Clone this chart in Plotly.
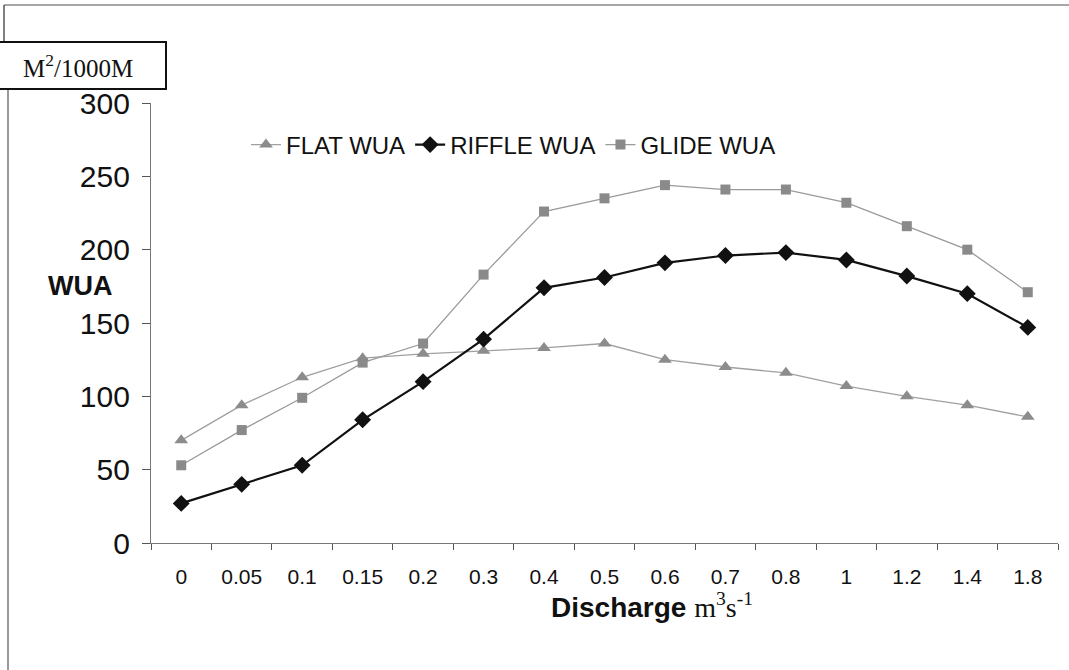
import plotly.graph_objects as go

# Discharge categories (m3/s) and weighted usable area per habitat type
discharge = ["0", "0.05", "0.1", "0.15", "0.2", "0.3", "0.4", "0.5",
             "0.6", "0.7", "0.8", "1", "1.2", "1.4", "1.8"]
flat_wua = [70, 94, 113, 126, 129, 131, 133, 136, 125, 120, 116, 107, 100, 94, 86]
riffle_wua = [27, 40, 53, 84, 110, 139, 174, 181, 191, 196, 198, 193, 182, 170, 147]
glide_wua = [53, 77, 99, 123, 136, 183, 226, 235, 244, 241, 241, 232, 216, 200, 171]
y_ticks = [0, 50, 100, 150, 200, 250, 300]

W, H = 1069, 670
L, R, T, B = 151, 11, 103, 127
PW, PH = W - L - R, H - T - B


def px(x):
    return (x - L) / PW


def py(y):
    return (H - B - y) / PH


SANS = "Liberation Sans, Arial, sans-serif"
SERIF = "Liberation Serif, Times New Roman, serif"

fig = go.Figure()
fig.add_trace(go.Scatter(
    x=discharge, y=flat_wua, name="FLAT WUA", mode="lines+markers",
    line=dict(color="#a0a0a0", width=1.3),
    marker=dict(symbol="triangle-up", size=12, color="#8c8c8c"),
))
fig.add_trace(go.Scatter(
    x=discharge, y=riffle_wua, name="RIFFLE WUA", mode="lines+markers",
    line=dict(color="#111111", width=2.2),
    marker=dict(symbol="diamond", size=13, color="#111111"),
))
fig.add_trace(go.Scatter(
    x=discharge, y=glide_wua, name="GLIDE WUA", mode="lines+markers",
    line=dict(color="#9a9a9a", width=1.3),
    marker=dict(symbol="square", size=10, color="#8a8a8a"),
))

fig.update_layout(
    width=W, height=H,
    margin=dict(l=L, r=R, t=T, b=B),
    paper_bgcolor="white", plot_bgcolor="white",
    font=dict(family=SANS, color="#111111"),
    legend=dict(
        orientation="h", x=px(246), y=py(145), xanchor="left", yanchor="middle",
        font=dict(size=24, family=SANS, color="#111111"),
        bgcolor="rgba(0,0,0,0)", itemwidth=30, tracegroupgap=0,
    ),
    showlegend=True,
)

fig.update_xaxes(
    type="category", range=[-0.5, len(discharge) - 0.5],
    tickson="boundaries", ticks="outside", ticklen=6,
    tickcolor="#555555", showline=True, linecolor="#777777", linewidth=1.2,
    showgrid=False, zeroline=False,
    tickfont=dict(size=21, family=SANS, color="#111111"),
    ticklabelstandoff=15,
)
fig.update_yaxes(
    range=[0, 300], tickvals=y_ticks, ticks="outside", ticklen=8,
    tickcolor="#555555", showline=True, linecolor="#777777", linewidth=1.2,
    showgrid=False, zeroline=False,
    tickfont=dict(size=30, family=SANS, color="#111111"),
    ticklabelstandoff=6,
)

# Outer frame lines around the chart
frame = dict(type="line", xref="paper", yref="paper", layer="above")
fig.add_shape(**frame, x0=px(4), x1=px(W), y0=py(5), y1=py(5),
              line=dict(color="#8a8a8a", width=1.5))
fig.add_shape(**frame, x0=px(4), x1=px(4), y0=py(5), y1=py(42),
              line=dict(color="#555555", width=1.5))
fig.add_shape(**frame, x0=px(8), x1=px(8), y0=py(89), y1=py(H),
              line=dict(color="#777777", width=1.5))

# Unit box at top left
fig.add_shape(type="rect", xref="paper", yref="paper",
              x0=px(-2), x1=px(166), y0=py(42), y1=py(89),
              line=dict(color="#111111", width=2), fillcolor="white")

centered = dict(xref="paper", yref="paper", showarrow=False,
                xanchor="center", yanchor="middle")
fig.add_annotation(
    **centered, x=px(78), y=py(66),
    text="M<sup>2</sup>/1000M", font=dict(family=SERIF, size=25, color="#111111"),
)

# Axis titles
fig.add_annotation(
    **centered, x=px(80), y=py(286),
    text="<b>WUA</b>", font=dict(family=SANS, size=27, color="#111111"),
)
fig.add_annotation(
    **centered, x=px(652), y=py(605),
    text=("<b>Discharge</b> <span style=\"font-family:Liberation Serif\">"
          "m<sup>3</sup>s<sup>-1</sup></span>"),
    font=dict(family=SANS, size=28, color="#111111"),
)

fig.write_html("out.html")
